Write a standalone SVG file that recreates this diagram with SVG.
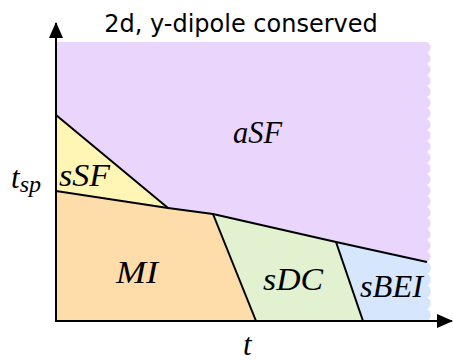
<svg xmlns="http://www.w3.org/2000/svg" width="453" height="360" viewBox="0 0 453 360">
<style>
.lbl{font-family:"Liberation Serif","Times New Roman",serif;font-style:italic;font-size:31px;fill:#000}
.title{font-family:"DejaVu Sans",sans-serif;font-size:24px;fill:#000}
.bd{fill:none;stroke:#000;stroke-width:2;stroke-linejoin:round}
.ax{stroke:#000;stroke-width:2;fill:none}
</style>
<defs>
<marker id="ah" viewBox="0 0 16 14" refX="15" refY="7" markerWidth="16" markerHeight="14" markerUnits="userSpaceOnUse" orient="auto">
<path d="M0,0 L16,7 L0,14 Z" fill="#000"/>
</marker>
</defs>
<text class="title" x="241" y="32" text-anchor="middle">2d, y-dipole conserved</text>
<g id="aSF">
<path fill="#EAD5FD" d="M56,42 L427,42 a6 6 0 0 1 0 11 a6 6 0 0 1 0 11 a6 6 0 0 1 0 11 a6 6 0 0 1 0 11 a6 6 0 0 1 0 11 a6 6 0 0 1 0 11 a6 6 0 0 1 0 11 a6 6 0 0 1 0 11 a6 6 0 0 1 0 11 a6 6 0 0 1 0 11 a6 6 0 0 1 0 11 a6 6 0 0 1 0 11 a6 6 0 0 1 0 11 a6 6 0 0 1 0 11 a6 6 0 0 1 0 11 a6 6 0 0 1 0 11 a6 6 0 0 1 0 11 a6 6 0 0 1 0 11 a6 6 0 0 1 0 11 a6 6 0 0 1 0 11 L336,242 L213,214 L168,208 L56,115 Z"/>
<text class="lbl" x="233" y="143" textLength="49" lengthAdjust="spacingAndGlyphs">aSF</text>
</g>
<g id="sSF">
<path fill="#FFF6B6" d="M56,115 L168,208 L56,191 Z"/>
<text class="lbl" x="59" y="186" textLength="51" lengthAdjust="spacingAndGlyphs">sSF</text>
</g>
<g id="MI">
<path fill="#FFDDAA" d="M56,191 L168,208 L213,214 L256,321 L56,321 Z"/>
<text class="lbl" x="116" y="283" textLength="42" lengthAdjust="spacingAndGlyphs">MI</text>
</g>
<g id="sDC">
<path fill="#E2F1D0" d="M213,214 L336,242 L363,321 L256,321 Z"/>
<text class="lbl" x="263" y="290" textLength="60" lengthAdjust="spacingAndGlyphs">sDC</text>
</g>
<g id="sBEI">
<path fill="#D6E6FD" d="M336,242 L427,262 a6.5 6.5 0 0 1 0 11.8 a6.5 6.5 0 0 1 0 11.8 a6.5 6.5 0 0 1 0 11.8 a6.5 6.5 0 0 1 0 11.8 a6.5 6.5 0 0 1 0 11.8 L363,321 Z"/>
<text class="lbl" x="360" y="297" textLength="63" lengthAdjust="spacingAndGlyphs">sBEI</text>
</g>
<g id="connectors">
<path class="bd" d="M56,115 L168,208"/>
<path class="bd" d="M56,191 L168,208 L213,214 L336,242 L427,262"/>
<path class="bd" d="M213,214 L256,321"/>
<path class="bd" d="M336,242 L363,321"/>
</g>
<g id="axes">
<path class="ax" d="M56,322 L56,23" marker-end="url(#ah)"/>
<path class="ax" d="M55,321 L452,321" marker-end="url(#ah)"/>
<text class="lbl" x="11" y="188" font-size="32">t<tspan font-size="24" dy="4">sp</tspan></text>
<text class="lbl" x="243" y="355">t</text>
</g>
</svg>
